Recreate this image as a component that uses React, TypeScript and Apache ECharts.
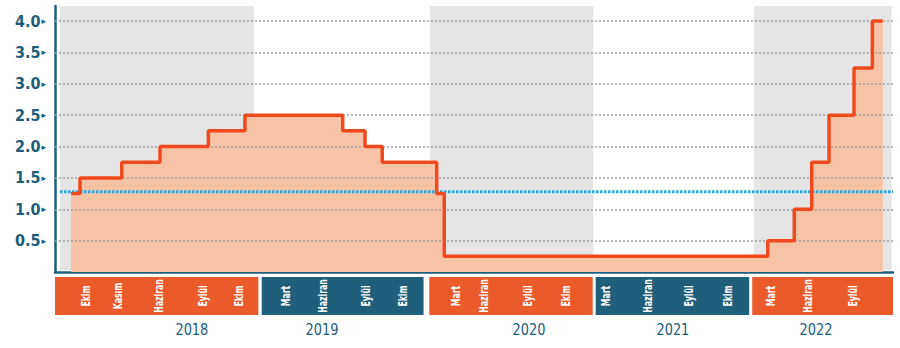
import React, { useEffect, useRef } from "react";
import * as echarts from "echarts";

// x unit: months on the chart's timeline (0 = left edge of 2018 strip, 60 = right edge)
const stepX = [1.15, 1.79, 4.78, 7.52, 10.98, 13.6, 20.6, 22.2, 23.43, 27.33, 27.87, 51.03, 52.93, 54.18, 55.42, 57.21, 58.52, 59.26];
const stepRate = [1.25, 1.5, 1.75, 2.0, 2.25, 2.5, 2.25, 2.0, 1.75, 1.25, 0.25, 0.5, 1.0, 1.75, 2.5, 3.25, 4.0, 4.0];

const avgRate = 1.28;
const avgRange = [0.36, 60];

const yTicks = [0.5, 1.0, 1.5, 2.0, 2.5, 3.0, 3.5, 4.0];

const bandStart = [0.36, 26.85, 50.05];
const bandEnd = [14.25, 38.54, 59.9];

const yearNames = ["2018", "2019", "2020", "2021", "2022"];
const yearStart = [0, 14.8, 26.8, 38.71, 49.92];
const yearEnd = [14.56, 26.39, 38.5, 49.7, 60];
const yearLabelX = [9.8, 19.12, 33.94, 44.24, 54.49];

const monthNames = [
  "Ekim", "Kasım", "Haziran", "Eylül", "Ekim",
  "Mart", "Haziran", "Eylül", "Ekim",
  "Mart", "Haziran", "Eylül", "Ekim",
  "Mart", "Haziran", "Eylül", "Ekim",
  "Mart", "Haziran", "Eylül",
];
const monthX = [
  2.15, 4.44, 7.37, 10.52, 13.1,
  16.47, 19.12, 22.2, 24.85,
  28.64, 30.64, 33.8, 36.52,
  39.38, 42.39, 45.32, 48.11,
  51.19, 53.84, 57.06,
];

const NARROW = '"DejaVu Sans Condensed", "Liberation Sans Narrow", sans-serif';
const TEAL = "#1D5C7A";
const ORANGE = "#EA5A2B";
const STRIP_TEAL = "#1F5F7B";

export default function App() {
  const ref = useRef<HTMLDivElement>(null);
  useEffect(() => {
    if (!ref.current) return;
    const chart = echarts.init(ref.current, null, { renderer: "svg" });
    const stepData = stepX.map((x, i) => [x, stepRate[i]]);
    chart.setOption({
      animation: false,
      grid: [
        { left: 55, right: 7, top: 6, bottom: 76 },
        { left: 55, right: 7, top: 277, height: 38 },
      ],
      xAxis: [
        {
          type: "value", gridIndex: 0, min: 0, max: 60,
          axisLine: { show: true, lineStyle: { color: "#1E5E7E", width: 2.5 } },
          axisTick: { show: false }, axisLabel: { show: false }, splitLine: { show: false },
        },
        { type: "value", gridIndex: 1, min: 0, max: 60, show: false },
      ],
      yAxis: [
        {
          type: "value", gridIndex: 0, min: 0, max: 4.24, interval: 0.5,
          axisLine: { show: true, lineStyle: { color: "#1E5E7E", width: 2.5 } },
          axisTick: { show: false },
          splitLine: { show: false },
          axisLabel: {
            margin: 9,
            formatter: (v: number) =>
              v > 0 && v <= 4.0001 && Math.abs(v * 2 - Math.round(v * 2)) < 1e-6
                ? `{n|${v.toFixed(1)}}{t|▸}`
                : "",
            rich: {
              n: { fontSize: 16, fontWeight: "bold", color: TEAL, fontFamily: NARROW },
              t: { fontSize: 9, color: TEAL, fontFamily: "DejaVu Sans", padding: [0, 0, 0, 1] },
            },
          },
        },
        { type: "value", gridIndex: 1, min: 0, max: 1, show: false },
      ],
      series: [
        {
          type: "custom",
          xAxisIndex: 0, yAxisIndex: 0, z: 1, silent: true,
          data: bandStart.map((s, i) => [s, bandEnd[i]]),
          renderItem: (params: any, api: any) => {
            const s = api.coord([api.value(0), 0]);
            const e = api.coord([api.value(1), 0]);
            const cs = params.coordSys;
            return {
              type: "rect",
              shape: { x: s[0], y: cs.y, width: e[0] - s[0], height: cs.height - 2 },
              style: { fill: "#E5E5E5" },
            };
          },
        },
        {
          type: "line", xAxisIndex: 0, yAxisIndex: 0, z: 2, silent: true,
          step: "end", data: stepData, symbol: "none",
          lineStyle: { width: 0, opacity: 0 },
          areaStyle: { color: "#F8C3A4", opacity: 1 },
        },
        {
          type: "line", xAxisIndex: 0, yAxisIndex: 0, z: 3, silent: true,
          data: [],
          markLine: {
            silent: true, symbol: ["none", "none"], label: { show: false },
            lineStyle: { color: "#A0A0A0", type: [2, 2], width: 1.5 },
            data: yTicks.map((v) => ({ yAxis: v })),
          },
        },
        {
          type: "line", xAxisIndex: 0, yAxisIndex: 0, z: 4, silent: true,
          data: [[avgRange[0], avgRate], [avgRange[1], avgRate]], symbol: "none",
          lineStyle: { color: "#27A8E0", width: 3, type: [2.5, 1.5] },
        },
        {
          type: "line", xAxisIndex: 0, yAxisIndex: 0, z: 5, silent: true,
          step: "end", data: stepData, symbol: "none",
          lineStyle: { color: "#EE4A1D", width: 3.5 },
        },
        {
          type: "custom",
          xAxisIndex: 1, yAxisIndex: 1, z: 2, silent: true, clip: false,
          data: yearStart.map((s, i) => [s, yearEnd[i], yearLabelX[i]]),
          renderItem: (params: any, api: any) => {
            const i = params.dataIndex;
            const s = api.coord([api.value(0), 0]);
            const e = api.coord([api.value(1), 0]);
            const l = api.coord([api.value(2), 0]);
            const cs = params.coordSys;
            return {
              type: "group",
              children: [
                {
                  type: "rect",
                  shape: { x: s[0], y: cs.y, width: e[0] - s[0], height: cs.height },
                  style: { fill: i % 2 === 0 ? ORANGE : STRIP_TEAL },
                },
                {
                  type: "text",
                  x: l[0], y: cs.y + cs.height + 15,
                  scaleX: 0.9,
                  style: {
                    text: yearNames[i], x: 0, y: 0,
                    fill: TEAL, fontSize: 16, fontWeight: 500, fontFamily: NARROW,
                    align: "center", verticalAlign: "middle",
                  },
                },
              ],
            };
          },
        },
        {
          type: "custom",
          xAxisIndex: 1, yAxisIndex: 1, z: 5, silent: true, clip: false,
          data: monthX.map((x) => [x, 0.5]),
          renderItem: (params: any, api: any) => {
            const i = params.dataIndex;
            const p = api.coord([api.value(0), api.value(1)]);
            return {
              type: "text",
              x: p[0], y: p[1],
              rotation: Math.PI / 2,
              scaleX: 0.72,
              style: {
                text: monthNames[i], x: 0, y: 0,
                fill: "#FFFFFF", fontSize: 12, fontWeight: "bold", fontFamily: NARROW,
                align: "center", verticalAlign: "middle",
              },
            };
          },
        },
      ],
    });
    return () => chart.dispose();
  }, []);
  return (
    <div
      ref={ref}
      style={{ position: "fixed", left: 0, top: 0, width: 900, height: 348, background: "#fff" }}
    />
  );
}
